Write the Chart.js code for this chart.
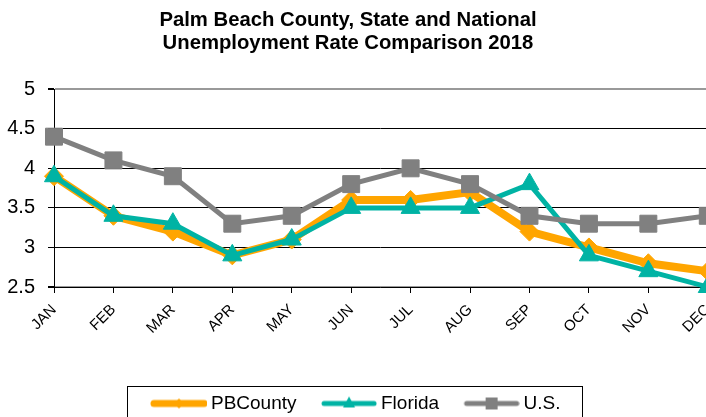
<!DOCTYPE html>
<html>
<head>
<meta charset="utf-8">
<script src="https://cdn.jsdelivr.net/npm/chart.js@4/dist/chart.umd.min.js"></script>
<style>
  html, body { margin: 0; padding: 0; background: #fff; overflow: hidden; }
  #wrap { width: 706px; height: 417px; }
</style>
</head>
<body>
<div id="wrap"><canvas id="grafico" width="706" height="417"></canvas></div>
<script>
// dados
const meses = ['JAN', 'FEB', 'MAR', 'APR', 'MAY', 'JUN', 'JUL', 'AUG', 'SEP', 'OCT', 'NOV', 'DEC'];
const pbCounty = [3.9, 3.4, 3.2, 2.9, 3.1, 3.6, 3.6, 3.7, 3.2, 3.0, 2.8, 2.7];
const florida  = [3.9, 3.4, 3.3, 2.9, 3.1, 3.5, 3.5, 3.5, 3.8, 2.9, 2.7, 2.5];
const us       = [4.4, 4.1, 3.9, 3.3, 3.4, 3.8, 4.0, 3.8, 3.4, 3.3, 3.3, 3.4];
const yTicks   = [2.5, 3, 3.5, 4, 4.5, 5];

const FONTE = "'Liberation Sans', Arial, sans-serif";
const LARANJA = '#FFA500';
const VERDE = '#00B3A4';
const CINZA = '#808080';

function pontos(valores) {
  return valores.map((v, i) => ({ x: i, y: v }));
}

// amostra da legenda: linha grossa com o marcador no meio
function amostra(cor, larg, forma) {
  const c = document.createElement('canvas');
  c.width = 77; c.height = 20;
  const g = c.getContext('2d');
  g.strokeStyle = cor; g.fillStyle = cor;
  g.lineWidth = larg; g.lineCap = 'round';
  g.beginPath(); g.moveTo(24, 10); g.lineTo(74, 10); g.stroke();
  const cx = 49, cy = 10;
  g.beginPath();
  if (forma === 'diamante') {
    g.moveTo(cx, cy - 5); g.lineTo(cx + 5, cy); g.lineTo(cx, cy + 5); g.lineTo(cx - 5, cy);
  } else if (forma === 'triangulo') {
    g.moveTo(cx, cy - 7); g.lineTo(cx + 6, cy + 4); g.lineTo(cx - 6, cy + 4);
  } else {
    g.rect(cx - 6, cy - 6, 12, 12);
  }
  g.closePath(); g.fill();
  return c;
}

const amostras = [
  amostra(LARANJA, 7, 'diamante'),
  amostra(VERDE, 5, 'triangulo'),
  amostra(CINZA, 5, 'quadrado')
];

// moldura da legenda
const molduraLegenda = {
  id: 'molduraLegenda',
  afterDraw(chart) {
    const hb = chart.legend.legendHitBoxes;
    if (!hb || !hb.length) return;
    const ult = hb[hb.length - 1];
    const ctx = chart.ctx;
    const esq = hb[0].left - 8;
    const dir = ult.left + ult.width + 22;
    const topo = hb[0].top + hb[0].height / 2 - 18;
    ctx.save();
    ctx.strokeStyle = '#000';
    ctx.lineWidth = 1;
    ctx.strokeRect(Math.round(esq) + 0.5, Math.round(topo) + 0.5, Math.round(dir - esq), 60);
    ctx.restore();
  }
};

new Chart(document.getElementById('grafico'), {
  type: 'line',
  data: {
    datasets: [
      {
        label: 'PBCounty', data: pontos(pbCounty), order: 3,
        borderColor: LARANJA, backgroundColor: LARANJA, borderWidth: 8,
        pointStyle: 'rectRot', pointRadius: 9.5, pointBorderWidth: 1
      },
      {
        label: 'Florida', data: pontos(florida), order: 2,
        borderColor: VERDE, backgroundColor: VERDE, borderWidth: 5,
        pointStyle: 'triangle', pointRadius: 11, pointBorderWidth: 1
      },
      {
        label: 'U.S.', data: pontos(us), order: 1,
        borderColor: CINZA, backgroundColor: CINZA, borderWidth: 5,
        pointStyle: 'rect', pointRadius: 12, pointBorderWidth: 1
      }
    ]
  },
  options: {
    responsive: false,
    animation: false,
    clip: false,
    layout: { autoPadding: false, padding: { left: -10, right: 0, top: 0, bottom: -6 } },
    elements: { line: { tension: 0 } },
    plugins: {
      title: {
        display: true,
        text: ['Palm Beach County, State and National', 'Unemployment Rate Comparison 2018'],
        color: '#000',
        font: { family: FONTE, size: 20.3, weight: 'bold', lineHeight: 1.15 },
        padding: { top: 8.5, bottom: 34 }
      },
      legend: {
        position: 'bottom',
        labels: {
          color: '#000',
          font: { family: FONTE, size: 19 },
          usePointStyle: true,
          pointStyleWidth: 66,
          padding: 9,
          sort: (a, b) => a.datasetIndex - b.datasetIndex,
          generateLabels(chart) {
            const itens = Chart.defaults.plugins.legend.labels.generateLabels(chart);
            itens.forEach(it => { it.pointStyle = amostras[it.datasetIndex]; });
            return itens;
          }
        }
      },
      tooltip: { enabled: false }
    },
    scales: {
      x: {
        type: 'linear',
        min: 0,
        max: 10.97,
        afterBuildTicks(scale) {
          scale.ticks = meses.map((m, i) => ({ value: i }));
        },
        afterFit(scale) {
          scale.paddingLeft = 0;
          scale.paddingRight = 0;
          scale.height = 98;
        },
        grid: { drawOnChartArea: false, drawTicks: true, tickLength: 6, tickColor: '#000' },
        border: { color: '#000', width: 1 },
        ticks: {
          autoSkip: false,
          maxRotation: 45,
          minRotation: 45,
          padding: 8,
          color: '#000',
          font: { family: FONTE, size: 15 },
          callback: (v) => meses[v] || ''
        }
      },
      y: {
        min: 2.5,
        max: 5,
        afterBuildTicks(scale) {
          scale.ticks = yTicks.map(v => ({ value: v }));
        },
        afterFit(scale) {
          scale.width = 64;
        },
        grid: {
          color: (c) => (c.tick && (c.tick.value === 5 || c.tick.value === 2.5)) ? '#999' : '#000',
          lineWidth: (c) => (c.tick && (c.tick.value === 5 || c.tick.value === 2.5)) ? 2 : 1,
          tickLength: 6,
          tickColor: '#000'
        },
        border: { color: '#000', width: 1 },
        ticks: {
          padding: 13,
          color: '#000',
          font: { family: FONTE, size: 20 },
          callback: (v) => String(v)
        }
      }
    }
  },
  plugins: [molduraLegenda]
});
</script>
</body>
</html>
